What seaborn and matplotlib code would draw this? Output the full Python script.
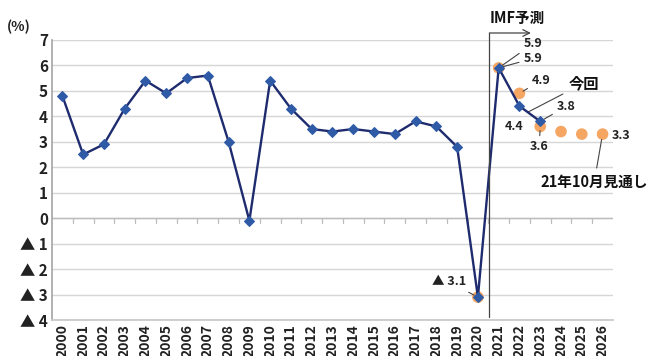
import matplotlib
matplotlib.use("Agg")
import matplotlib.pyplot as plt
import seaborn as sns
import pandas as pd
import numpy as np

# World real GDP growth, actual and latest projection (%)
years = list(range(2000, 2024))
growth = [4.8, 2.5, 2.9, 4.3, 5.4, 4.9, 5.5, 5.6, 3.0, -0.1, 5.4, 4.3,
          3.5, 3.4, 3.5, 3.4, 3.3, 3.8, 3.6, 2.8, -3.1, 5.9, 4.4, 3.8]

# Previous (Oct 2021) outlook
prev_years = [2020, 2021, 2022, 2023, 2024, 2025, 2026]
prev_growth = [-3.1, 5.9, 4.9, 3.6, 3.4, 3.3, 3.3]

all_years = list(range(2000, 2027))
y_ticks = [7, 6, 5, 4, 3, 2, 1, 0, -1, -2, -3, -4]
y_labels = ["7", "6", "5", "4", "3", "2", "1", "0", "▲ 1", "▲ 2", "▲ 3", "▲ 4"]

sns.set_theme(style="white")
plt.rcParams["font.family"] = ["Noto Sans CJK JP", "DejaVu Sans"]

fig = plt.figure(figsize=(6.5, 3.56), dpi=100)
ax = fig.add_axes([0.08, 0.101, 0.863, 0.787])

cur = pd.DataFrame({"year": years, "growth": growth})
prev = pd.DataFrame({"year": prev_years, "growth": prev_growth})

sns.scatterplot(data=prev, x="year", y="growth", ax=ax, color="#f5a663",
                s=70, edgecolor="none", zorder=3, legend=False)
sns.lineplot(data=cur, x="year", y="growth", ax=ax, color="#1e2b6e",
             linewidth=1.7, marker="D", markersize=5.5,
             markerfacecolor="#2f5aa6", markeredgecolor="#2f5aa6",
             zorder=4, legend=False)

ax.set_xlim(1999.5, 2026.5)
ax.set_ylim(-4, 7)
ax.set_xticks(all_years)
ax.set_xticklabels([str(y) for y in all_years], rotation=90, fontsize=10,
                   fontweight="bold", color="#222222")
ax.set_yticks(y_ticks)
ax.set_yticklabels(y_labels, fontsize=11, fontweight="bold", color="#222222")
ax.tick_params(axis="both", length=0, pad=3)
ax.set_xlabel("")
ax.set_ylabel("")

# horizontal gridlines
for v in y_ticks:
    ax.axhline(v, color="#d6d6d6", linewidth=1.0, zorder=0)
ax.axhline(0, color="#bdbdbd", linewidth=1.0, zorder=1)
# small category ticks along the zero line
for y in all_years[:-1]:
    ax.plot([y + 0.5, y + 0.5], [0, -0.2], color="#bdbdbd", linewidth=0.9,
            zorder=1)

for side in ["top", "right"]:
    ax.spines[side].set_visible(False)
ax.spines["left"].set_color("#a8a8a8")
ax.spines["bottom"].set_color("#c8c8c8")

ax.text(-0.08, 1.02, "(%)", transform=ax.transAxes, fontsize=10,
        fontweight="bold", ha="left", va="bottom", color="#222222")

# projection divider and arrow
ax.plot([2020.55, 2020.55], [7.27, -3.9], color="#444444", linewidth=0.9,
        clip_on=False, zorder=5)
ax.annotate("", xy=(2022.55, 7.27), xytext=(2020.55, 7.27),
            annotation_clip=False,
            arrowprops=dict(arrowstyle="->", color="#444444", lw=0.9,
                            shrinkA=0, shrinkB=0))
ax.text(2021.9, 7.85, "IMF予測", fontsize=10.5, fontweight="bold",
        ha="center", va="center", color="#111111", clip_on=False)

lead = dict(arrowstyle="-", color="#444444", lw=0.8, shrinkA=1, shrinkB=3)
lab = dict(fontsize=9, fontweight="bold", color="#222222", va="center")

ax.annotate("5.9", xy=(2021, 5.9), xytext=(2022.2, 6.85), ha="left",
            arrowprops=lead, annotation_clip=False, **lab)
ax.annotate("5.9", xy=(2021, 5.9), xytext=(2022.2, 6.27), ha="left",
            arrowprops=lead, **lab)
ax.annotate("4.9", xy=(2022, 4.9), xytext=(2022.6, 5.42), ha="left",
            arrowprops=lead, **lab)
ax.annotate("今回", xy=(2022.4, 4.16), xytext=(2025.1, 5.3), ha="center",
            va="center", fontsize=11, fontweight="bold", color="#111111",
            arrowprops=dict(arrowstyle="-", color="#444444", lw=0.8,
                            shrinkA=2, shrinkB=0))
ax.annotate("3.8", xy=(2023, 3.8), xytext=(2023.8, 4.39), ha="left",
            arrowprops=lead, **lab)
ax.text(2021.75, 3.6, "4.4", ha="center", **lab)
ax.annotate("3.6", xy=(2023, 3.6), xytext=(2022.95, 2.8), ha="center",
            arrowprops=lead, **lab)
ax.text(2026.45, 3.25, "3.3", ha="left", clip_on=False, **lab)
ax.annotate("21年10月見通し", xy=(2026, 3.3), xytext=(2025.6, 1.42),
            ha="center", va="center", fontsize=10.5, fontweight="bold",
            color="#111111", annotation_clip=False,
            arrowprops=dict(arrowstyle="-", color="#444444", lw=0.8,
                            shrinkA=2, shrinkB=4))
ax.annotate("▲ 3.1", xy=(2020, -3.1), xytext=(2018.6, -2.5), ha="center",
            arrowprops=lead, **lab)

fig.savefig("out.png", dpi=100, facecolor="white")
